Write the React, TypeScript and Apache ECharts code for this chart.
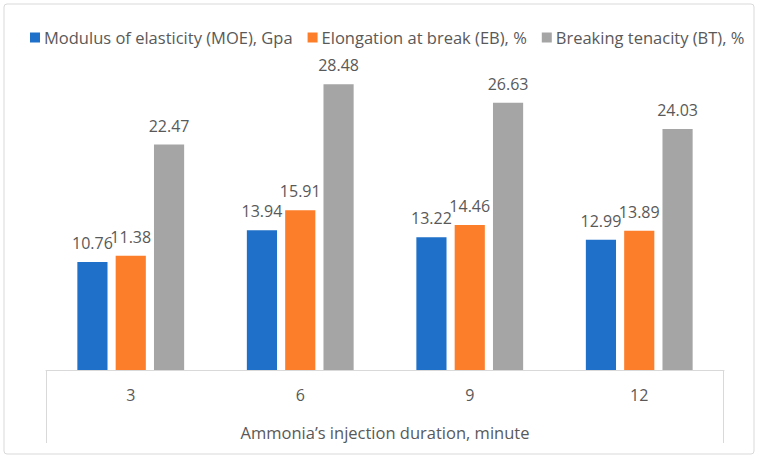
import { useEffect, useRef } from 'react';
import * as echarts from 'echarts';

// Chart data
const durations = ['3', '6', '9', '12'];
const moeValues = [10.76, 13.94, 13.22, 12.99];
const ebValues = [11.38, 15.91, 14.46, 13.89];
const btValues = [22.47, 28.48, 26.63, 24.03];
const seriesNames = [
    'Modulus of elasticity (MOE), Gpa',
    'Elongation at break (EB), %',
    'Breaking tenacity (BT), %',
];

const TEXT = '#595959';
const LINE = '#d9d9d9';
const FONT = 'Open Sans';

export default function App() {
    const chartRef = useRef<HTMLDivElement>(null);

    useEffect(() => {
        document.body.style.margin = '0';
        if (!chartRef.current) return;
        const chart = echarts.init(chartRef.current, undefined, { renderer: 'svg' });

        // Value labels above each bar
        const label = {
            show: true,
            position: 'top',
            distance: 11,
            color: TEXT,
            fontSize: 16,
            fontFamily: FONT,
        };

        chart.setOption({
            animation: false,
            textStyle: { fontFamily: FONT },
            color: ['#1f70c8', '#fd7e2a', '#a5a5a5'],
            legend: {
                top: 29,
                left: 30,
                padding: 0,
                itemWidth: 10,
                itemHeight: 10,
                itemGap: 15,
                icon: 'rect',
                textStyle: { color: TEXT, fontSize: 16.5, fontFamily: FONT, padding: [0, 0, 0, -1] },
            },
            grid: { left: 46, right: 36, top: 69, bottom: 90 },
            xAxis: {
                type: 'category',
                data: durations,
                name: "Ammonia’s injection duration, minute",
                nameLocation: 'middle',
                nameGap: 54,
                nameTextStyle: { color: TEXT, fontSize: 16.5, fontFamily: FONT },
                axisLine: { show: true, lineStyle: { color: LINE, width: 1 } },
                axisTick: { show: false },
                axisLabel: { color: TEXT, fontSize: 16, margin: 17, fontFamily: FONT },
            },
            yAxis: { type: 'value', min: 0, max: 30, show: false },
            series: [
                { name: seriesNames[0], type: 'bar', data: moeValues, label, barGap: '27%', barCategoryGap: '37%' },
                { name: seriesNames[1], type: 'bar', data: ebValues, label },
                { name: seriesNames[2], type: 'bar', data: btValues, label },
            ],
            graphic: [
                {
                    type: 'rect',
                    shape: { x: 4, y: 4, width: 750, height: 450, r: 3 },
                    style: { fill: 'none', stroke: LINE, lineWidth: 1 },
                    silent: true,
                },
                {
                    type: 'line',
                    shape: { x1: 46.5, y1: 370, x2: 46.5, y2: 443 },
                    style: { stroke: LINE, lineWidth: 1 },
                },
                {
                    type: 'line',
                    shape: { x1: 723.5, y1: 370, x2: 723.5, y2: 443 },
                    style: { stroke: LINE, lineWidth: 1 },
                },
            ],
        });

        return () => chart.dispose();
    }, []);

    return <div ref={chartRef} style={{ width: 760, height: 460 }} />;
}
